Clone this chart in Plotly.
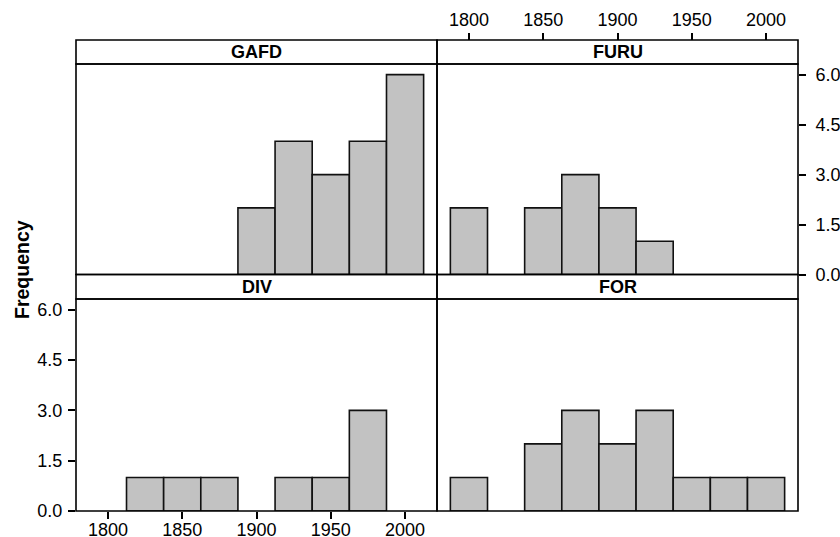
import plotly.graph_objects as go

W, H = 840, 537

bin_centers = [1800, 1825, 1850, 1875, 1900, 1925, 1950, 1975, 2000]
gafd = [0, 0, 0, 0, 2, 4, 3, 4, 6]
furu = [2, 0, 2, 3, 2, 1, 0, 0, 0]
div = [0, 1, 1, 1, 0, 1, 1, 3, 0]
for_ = [1, 0, 2, 3, 2, 3, 1, 1, 1]
panel_names = ["GAFD", "FURU", "DIV", "FOR"]
x_ticks = [1800, 1850, 1900, 1950, 2000]
y_ticks = [0.0, 1.5, 3.0, 4.5, 6.0]
bin_width = 25
x_range = [1778.5, 2021.5]
y_range = [0, 6.32]


def X(px):
    return px / W


def Y(py):
    return 1 - py / H


FONT = "Liberation Sans, Arial, Helvetica, sans-serif"
BAR_FILL = "#c2c2c2"

# panel geometry (pixels): x0, x1, strip_top, plot_top, plot_bottom
panels = {
    "GAFD": dict(ax="2", x0=76, x1=437, st=40, pt=64, pb=274.5, data=gafd),
    "FURU": dict(ax="3", x0=437, x1=798, st=40, pt=64, pb=274.5, data=furu),
    "DIV": dict(ax="", x0=76, x1=437, st=274.5, pt=299, pb=511, data=div),
    "FOR": dict(ax="4", x0=437, x1=798, st=274.5, pt=299, pb=511, data=for_),
}

fig = go.Figure()
shapes = []
annotations = []
layout = {}

for name in panel_names:
    p = panels[name]
    xs = [c for c, v in zip(bin_centers, p["data"]) if v > 0]
    ys = [v for v in p["data"] if v > 0]
    fig.add_trace(go.Bar(
        x=xs, y=ys, width=bin_width,
        marker=dict(color=BAR_FILL, line=dict(color="#111111", width=1.6)),
        xaxis="x" + p["ax"], yaxis="y" + p["ax"], showlegend=False,
        hoverinfo="x+y",
    ))
    xa = dict(domain=[X(p["x0"]), X(p["x1"])], range=x_range, showgrid=False,
              zeroline=False, showline=False, ticks="", showticklabels=False,
              anchor="y" + p["ax"], fixedrange=True, automargin=False)
    ya = dict(domain=[Y(p["pb"]), Y(p["pt"])], range=y_range, showgrid=False,
              zeroline=False, showline=False, ticks="", showticklabels=False,
              anchor="x" + p["ax"], fixedrange=True, automargin=False)
    tickstyle = dict(ticks="outside", ticklen=7, tickwidth=1.5, tickcolor="black",
                     showticklabels=True, tickfont=dict(family=FONT, size=18, color="black"))
    if name == "DIV":
        xa.update(tickstyle, tickvals=x_ticks, ticklabelstandoff=-5)
        ya.update(tickstyle, tickvals=y_ticks, tickformat=".1f", ticklabelstandoff=2)
    if name == "FURU":
        xa.update(tickstyle, tickvals=x_ticks, side="top", anchor="free",
                  position=Y(40), ticklabelstandoff=0)
        ya.update(tickstyle, tickvals=y_ticks, tickformat=".1f", side="right",
                  ticklabelstandoff=6)
    layout["xaxis" + p["ax"]] = xa
    layout["yaxis" + p["ax"]] = ya

    # strip box and plot box
    shapes.append(dict(type="rect", xref="paper", yref="paper",
                       x0=X(p["x0"]), x1=X(p["x1"]), y0=Y(p["pt"]), y1=Y(p["st"]),
                       line=dict(color="black", width=1.6), fillcolor="rgba(0,0,0,0)",
                       layer="above"))
    shapes.append(dict(type="rect", xref="paper", yref="paper",
                       x0=X(p["x0"]), x1=X(p["x1"]), y0=Y(p["pb"]), y1=Y(p["pt"]),
                       line=dict(color="black", width=1.6), fillcolor="rgba(0,0,0,0)",
                       layer="above"))
    annotations.append(dict(text="<b>%s</b>" % name, xref="paper", yref="paper",
                            x=X((p["x0"] + p["x1"]) / 2), y=Y((p["st"] + p["pt"]) / 2),
                            showarrow=False, xanchor="center", yanchor="middle",
                            font=dict(family=FONT, size=18, color="black")))

annotations.append(dict(text="<b>Frequency</b>", xref="paper", yref="paper",
                        x=X(22), y=Y(270), textangle=-90, showarrow=False,
                        xanchor="center", yanchor="middle",
                        font=dict(family=FONT, size=19.5, color="black")))

fig.update_layout(
    width=W, height=H, autosize=False,
    margin=dict(l=0, r=0, t=0, b=0, autoexpand=False),
    paper_bgcolor="white", plot_bgcolor="white",
    shapes=shapes, annotations=annotations,
    barmode="overlay",
    **layout,
)

fig.write_html(
    "out.html",
    config={"displayModeBar": False},
    post_script="document.body.style.margin='0';"
                "document.documentElement.style.overflow='hidden';",
)
